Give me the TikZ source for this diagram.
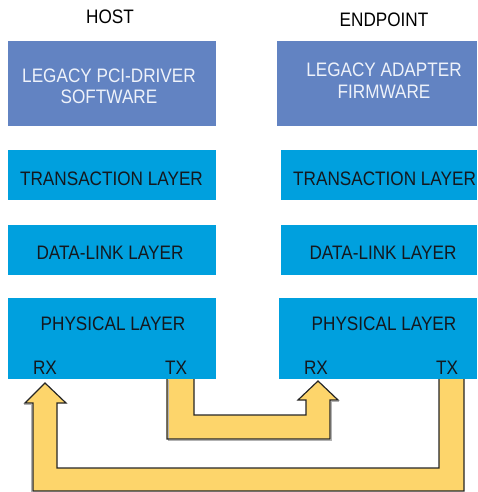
\documentclass[tikz,border=0pt]{standalone}
\usepackage{fontspec}
\newfontfamily\labfont{Liberation Sans}[FakeStretch=0.88]
\definecolor{swblue}{HTML}{6283C2}
\definecolor{layblue}{HTML}{00A0DE}
\definecolor{pipe}{HTML}{FDD56B}
\definecolor{lighttext}{HTML}{EEF2FA}
\definecolor{darktext}{HTML}{14181E}
\tikzset{
  swbox/.style={fill=swblue, draw=none, anchor=north west, inner sep=0pt},
  laybox/.style={fill=layblue, draw=none, anchor=north west, inner sep=0pt},
  lab/.style={inner sep=0pt, anchor=base, font=\labfont\fontsize{19.5}{22}\selectfont},
  lightlab/.style={lab, text=lighttext},
  darklab/.style={lab, text=darktext},
  pipefill/.style={fill=pipe, draw=none},
  pipeline/.style={draw=black!85, line width=1.2pt, line join=miter},
  pipeshadow/.style={draw=black!30, line width=1.2pt, line join=miter}
}
\begin{document}
\begin{tikzpicture}[x=1pt, y=-1pt]
\useasboundingbox (0,0) rectangle (477,492);
% boxes
\node[swbox, minimum width=208pt, minimum height=85pt] (hostsw) at (8,41) {};
\node[swbox, minimum width=200pt, minimum height=85pt] (epfw) at (277,41) {};
\node[laybox, minimum width=208pt, minimum height=50pt] (hosttl) at (8,150) {};
\node[laybox, minimum width=196pt, minimum height=50pt] (eptl) at (281,150) {};
\node[laybox, minimum width=208pt, minimum height=50pt] (hostdl) at (8,225) {};
\node[laybox, minimum width=196pt, minimum height=50pt] (epdl) at (281,225) {};
\node[laybox, minimum width=208pt, minimum height=81pt] (hostph) at (8,298) {};
\node[laybox, minimum width=198pt, minimum height=81pt] (epph) at (279,298) {};
% titles
\node[lab] (host) at (110,24) {HOST};
\node[lab] (endpoint) at (384,27) {ENDPOINT};
% texts
\node[lightlab] (t1) at (109,83) {LEGACY PCI-DRIVER};
\node[lightlab] (t2) at (109,104) {SOFTWARE};
\node[lightlab] (t3) at (384,77) {LEGACY ADAPTER};
\node[lightlab] (t4) at (384,99) {FIRMWARE};
\node[darklab] (t5) at (111.5,185) {TRANSACTION LAYER};
\node[darklab, anchor=base west] (t6) at (293,185) {TRANSACTION LAYER};
\node[darklab] (t7) at (110,259) {DATA-LINK LAYER};
\node[darklab] (t8) at (383,259) {DATA-LINK LAYER};
\node[darklab] (t9) at (113,330) {PHYSICAL LAYER};
\node[darklab] (t10) at (384,330) {PHYSICAL LAYER};
\node[darklab] (hrx) at (45,374) {RX};
\node[darklab] (htx) at (176,374) {TX};
\node[darklab] (erx) at (316,374) {RX};
\node[darklab] (etx) at (447,374) {TX};
% inner pipe: host TX -> endpoint RX
\fill[pipefill] (167,379) -- (167,439) -- (330,439) -- (330,400) -- (338,400) -- (318,381) -- (298,400) -- (306,400) -- (306,415) -- (194,415) -- (194,379) -- cycle;
\draw[pipeshadow, shift={(1.2,1.2)}] (167,379) -- (167,439) -- (330,439) -- (330,400) -- (338,400);
\draw[pipeline] (167,379) -- (167,439) -- (330,439) -- (330,400) -- (338,400) -- (318,381) -- (298,400) -- (306,400) -- (306,415) -- (194,415) -- (194,379);
% outer pipe: endpoint TX -> host RX
\fill[pipefill] (464,379) -- (464,491) -- (33,491) -- (33,403) -- (25,403) -- (45,383) -- (66,403) -- (57,403) -- (57,468) -- (439,468) -- (439,379) -- cycle;
\draw[pipeshadow, shift={(-1.2,1.2)}] (25,403) -- (33,403) -- (33,491);
\draw[pipeline] (464,379) -- (464,491) -- (33,491) -- (33,403) -- (25,403) -- (45,383) -- (66,403) -- (57,403) -- (57,468) -- (439,468) -- (439,379);
\end{tikzpicture}
\end{document}
